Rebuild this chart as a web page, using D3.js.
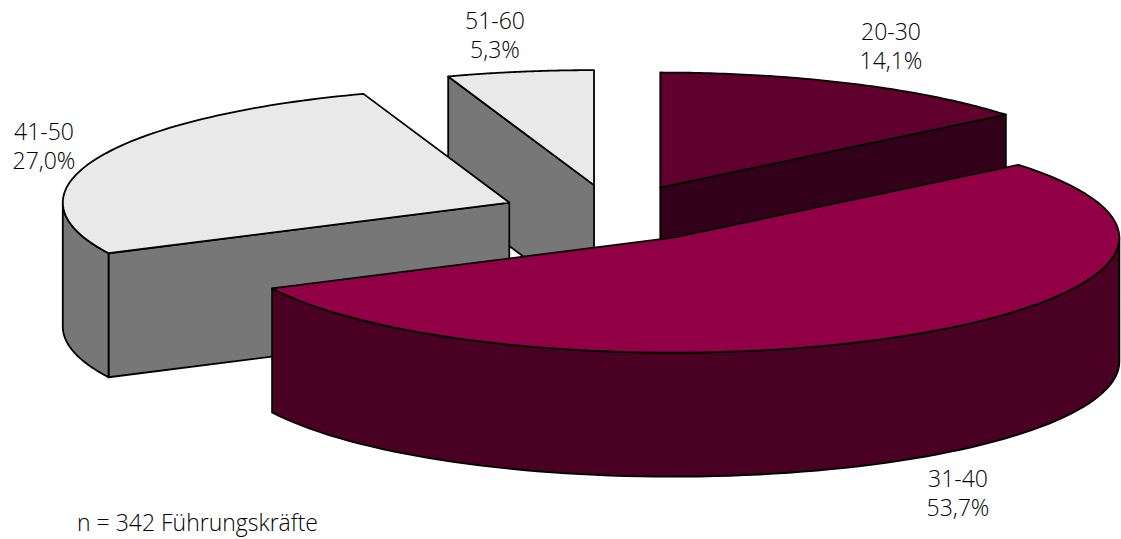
<!DOCTYPE html>
<html>

<head>
    <meta charset="utf-8" />
    <script src="https://cdn.jsdelivr.net/npm/d3@7/dist/d3.min.js"></script>
    <title>Altersverteilung</title>
    <style>
        html,
        body {
            margin: 0;
            background: #fff;
        }

        text {
            font-family: "Open Sans", Roboto, sans-serif;
            font-weight: 300;
            fill: #000;
        }
    </style>
</head>

<body>
    <div id="chart"></div>
    <script>
        var categories = ['20-30', '31-40', '41-50', '51-60'];
        var shares = [14.1, 53.7, 27.0, 5.3];
        var shareLabels = ['14,1%', '53,7%', '27,0%', '5,3%'];
        var note = 'n = 342 Führungskräfte';

        var topColors = ['#5f002f', '#910045', '#e9e9e9', '#e9e9e9'];
        var sideColors = ['#33001a', '#4a0023', '#777777', '#777777'];
        var labelPos = [[891, 47], [958, 494], [44, 147], [495, 36]];
        // back slices first, the big front one last
        var drawOrder = [3, 2, 0, 1];

        var width = 1121, height = 539;
        var cx = 612.5, cy = 213.5, rx = 446.5, ry = 115, depth = 124, explode = 0.25;

        var svg = d3.select('#chart').append('svg')
            .attr('width', width)
            .attr('height', height)
            .style('display', 'block');

        var arcs = d3.pie().sort(null)(shares);

        function project(c, r, a) {
            return [c[0] + r * rx * Math.sin(a), c[1] - r * ry * Math.cos(a)];
        }

        function arcPoints(c, a0, a1) {
            return d3.range(0, 81).map(function (i) {
                return project(c, 1, a0 + (a1 - a0) * i / 80);
            });
        }

        function drop(p) {
            return [p[0], p[1] + depth];
        }

        var line = d3.line();

        function face(g, pts, fill) {
            g.append('path')
                .attr('d', line(pts) + 'Z')
                .attr('fill', fill)
                .attr('stroke', '#000')
                .attr('stroke-width', 1.8)
                .attr('stroke-linejoin', 'round');
        }

        drawOrder.forEach(function (i) {
            var d = arcs[i];
            var g = svg.append('g');
            var mid = (d.startAngle + d.endAngle) / 2;
            var c = project([cx, cy], explode, mid);

            // cut faces that look towards the viewer
            var cutA = [c, project(c, 1, d.startAngle)];
            if (d.startAngle > Math.PI) {
                face(g, cutA.concat(cutA.map(drop).reverse()), sideColors[i]);
            }
            var cutB = [c, project(c, 1, d.endAngle)];
            if (d.endAngle < Math.PI) {
                face(g, cutB.concat(cutB.map(drop).reverse()), sideColors[i]);
            }

            // outer wall, only the front half of the ellipse
            var w0 = Math.max(d.startAngle, Math.PI / 2);
            var w1 = Math.min(d.endAngle, Math.PI * 1.5);
            if (w1 > w0) {
                var wall = arcPoints(c, w0, w1);
                face(g, wall.concat(wall.map(drop).reverse()), sideColors[i]);
            }

            face(g, [c].concat(arcPoints(c, d.startAngle, d.endAngle)), topColors[i]);
        });

        categories.forEach(function (name, i) {
            var t = svg.append('text')
                .attr('text-anchor', 'middle')
                .attr('font-size', 23);
            t.append('tspan').attr('x', labelPos[i][0]).attr('y', labelPos[i][1] - 7).text(name);
            t.append('tspan').attr('x', labelPos[i][0]).attr('y', labelPos[i][1] + 22).text(shareLabels[i]);
        });

        svg.append('text')
            .attr('x', 77)
            .attr('y', 531)
            .attr('font-size', 23)
            .text(note);
    </script>
</body>

</html>
